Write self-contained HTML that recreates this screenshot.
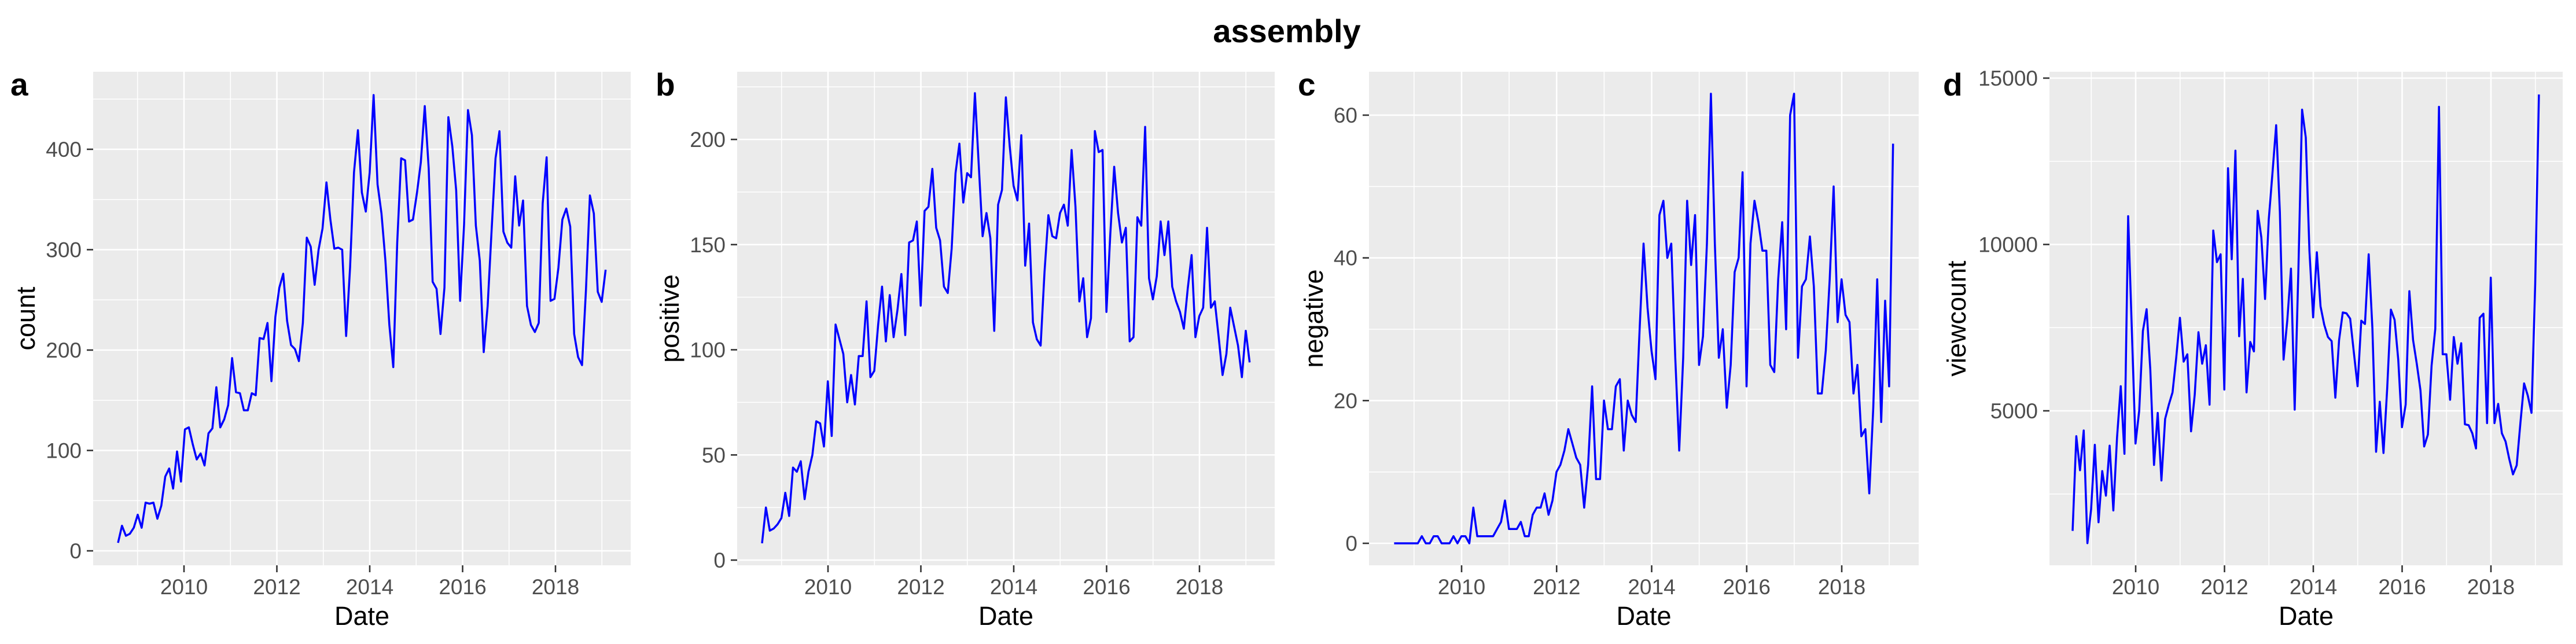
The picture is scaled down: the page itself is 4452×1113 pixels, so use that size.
<!DOCTYPE html>
<html><head><meta charset="utf-8"><style>
html,body{margin:0;padding:0;background:#fff;}
svg{display:block;font-family:"Liberation Sans",Arial,sans-serif;}
</style></head><body>
<svg id="chart" width="4452" height="1113" viewBox="0 0 4452 1113" xmlns="http://www.w3.org/2000/svg">
<rect x="0" y="0" width="4452" height="1113" fill="#fff"/>
<text x="2224" y="73" text-anchor="middle" font-size="56" font-weight="bold" fill="#000">assembly</text>
</svg>
<script>
const startYear = 2008.58;
const endYear = 2019.08;
const countValues = [8,25,15,17,23,36,23,48,47,48,32,45,74,82,62,99,69,121,123,106,91,97,85,117,122,163,123,131,145,192,158,157,140,140,157,155,212,211,227,169,233,262,276,229,205,201,189,227,312,303,265,300,321,367,330,301,302,300,214,282,377,419,357,338,377,454,365,336,289,225,183,307,391,389,328,330,356,387,443,381,268,261,216,262,432,403,359,249,325,439,414,324,289,198,244,319,391,418,318,307,302,373,324,349,244,225,218,227,346,392,249,251,282,330,341,323,216,193,185,260,354,336,258,248,280];
const positiveValues = [8,25,14,15,17,20,32,21,44,42,47,29,42,50,66,65,54,85,59,112,105,98,75,88,74,97,97,123,87,90,112,130,104,126,106,119,136,107,151,152,161,121,166,168,186,158,152,130,127,148,184,198,170,184,182,222,188,154,165,153,109,169,176,220,197,178,171,202,140,160,113,105,102,137,164,154,153,165,169,159,195,168,123,134,106,115,204,194,195,118,155,187,165,151,158,104,106,163,159,206,134,124,135,161,145,161,130,123,118,110,129,145,106,116,120,158,120,123,106,88,98,120,111,102,87,109,94];
const negativeValues = [0,0,0,0,0,0,0,1,0,0,1,1,0,0,0,1,0,1,1,0,5,1,1,1,1,1,2,3,6,2,2,2,3,1,1,4,5,5,7,4,6,10,11,13,16,14,12,11,5,11,22,9,9,20,16,16,22,23,13,20,18,17,30,42,33,27,23,46,48,40,42,26,13,26,48,39,46,25,29,42,63,42,26,30,19,25,38,40,52,22,42,48,45,41,41,25,24,37,45,30,60,63,26,36,37,43,36,21,21,27,37,50,31,37,32,31,21,25,15,16,7,19,37,17,34,22,56];
const viewcountValues = [1392,4236,3214,4409,1022,2044,3978,1650,3190,2451,3953,2007,4200,5739,3707,10850,7463,4015,5000,7401,8054,6232,3374,4938,2906,4754,5185,5554,6601,7796,6478,6699,4384,5493,7364,6416,6970,5185,10419,9470,9704,5640,12290,9557,12820,7241,8965,5554,7069,6786,11010,10209,8362,10751,12143,13584,10973,6539,7709,9273,5037,9224,14052,13214,9803,7808,9766,8140,7586,7217,7094,5394,7118,7956,7931,7771,6749,5739,7709,7611,9704,7488,3768,5271,3732,5677,8042,7734,6539,4507,5185,8596,7131,6416,5616,3929,4286,6355,7463,14138,6699,6699,5333,7217,6416,7032,4594,4569,4323,3867,7796,7919,4631,9002,4631,5209,4323,4076,3547,3091,3362,4631,5825,5456,4938,8818,14507];
const yearTicks = [2010,2012,2014,2016,2018];
const yearMinor = [2009,2011,2013,2015,2017,2019];
const countTicks = [0,100,200,300,400];
const countMinor = [50,150,250,350,450];
const positiveTicks = [0,50,100,150,200];
const positiveMinor = [25,75,125,175,225];
const negativeTicks = [0,20,40,60];
const negativeMinor = [10,30,50];
const viewTicks = [5000,10000,15000];
const viewMinor = [2500,7500,12500];

const NS = "http://www.w3.org/2000/svg";
const svg = document.getElementById('chart');
function mk(tag, attrs, parent){
  const e = document.createElementNS(NS, tag);
  for (const k in attrs) e.setAttribute(k, attrs[k]);
  (parent||svg).appendChild(e);
  return e;
}
const panels = [
  {key:'count', letter:'a', title:'count', values:countValues, ticks:countTicks, minor:countMinor,
   left:161, right:1090, x2010:318, x2018:960, yA:0, pA:952, yB:400, pB:258, letterX:18, titleX:44},
  {key:'positive', letter:'b', title:'positive', values:positiveValues, ticks:positiveTicks, minor:positiveMinor,
   left:1274, right:2203, x2010:1431, x2018:2073, yA:0, pA:968, yB:200, pB:241, letterX:1133, titleX:1157},
  {key:'negative', letter:'c', title:'negative', values:negativeValues, ticks:negativeTicks, minor:negativeMinor,
   left:2366, right:3316, x2010:2526, x2018:3183, yA:0, pA:939, yB:60, pB:199, letterX:2243, titleX:2270},
  {key:'viewcount', letter:'d', title:'viewcount', values:viewcountValues, ticks:viewTicks, minor:viewMinor,
   left:3542, right:4429, x2010:3691, x2018:4305, yA:5000, pA:710, yB:15000, pB:135, letterX:3358, titleX:3381}
];
const TOP = 124, BOTTOM = 977;
panels.forEach(p => {
  const g = mk('g', {});
  
  
  const xs = y => p.x2010 + (y - 2010) * (p.x2018 - p.x2010) / 8;
  const ys = v => p.pA + (v - p.yA) * (p.pB - p.pA) / (p.yB - p.yA);
  const bg = mk('rect', {x:p.left, y:TOP, width:p.right-p.left, height:BOTTOM-TOP, fill:'#EBEBEB'}, g);
  
  
  p.minor.forEach(v => { const y = ys(v); if (y > TOP && y < BOTTOM) {
    const l = mk('line', {x1:p.left, x2:p.right, y1:y, y2:y, stroke:'#fff', 'stroke-width':1.6}, g);
    
     }});
  yearMinor.forEach(v => { const x = xs(v); if (x > p.left && x < p.right) {
    const l = mk('line', {x1:x, x2:x, y1:TOP, y2:BOTTOM, stroke:'#fff', 'stroke-width':1.6}, g);
    
     }});
  p.ticks.forEach(v => { const y = ys(v);
    const l = mk('line', {x1:p.left, x2:p.right, y1:y, y2:y, stroke:'#fff', 'stroke-width':2.6}, g);
    
    
    const tk = mk('line', {x1:p.left-11, x2:p.left, y1:y, y2:y, stroke:'#333', 'stroke-width':2.6}, g);
    
    
    const t = mk('text', {x:p.left-20, y:y+13, 'text-anchor':'end', 'font-size':37, fill:'#4D4D4D'}, g);
    t.textContent = String(v);
    
    
  });
  yearTicks.forEach(v => { const x = xs(v);
    const l = mk('line', {x1:x, x2:x, y1:TOP, y2:BOTTOM, stroke:'#fff', 'stroke-width':2.6}, g);
    
    
    const tk = mk('line', {x1:x, x2:x, y1:BOTTOM, y2:BOTTOM+12, stroke:'#333', 'stroke-width':2.6}, g);
    
    
    const t = mk('text', {x:x, y:1027, 'text-anchor':'middle', 'font-size':37, fill:'#4D4D4D'}, g);
    t.textContent = String(v);
    
    
  });
  const n = p.values.length;
  const pts = p.values.map((v,i) => {
    const yr = startYear + i * (endYear - startYear) / (n - 1);
    return xs(yr).toFixed(1) + ',' + ys(v).toFixed(1);
  }).join(' ');
  const line = mk('polyline', {points:pts, fill:'none', stroke:'#0000FF', 'stroke-width':3.5, 'stroke-linejoin':'round'}, g);
  
  
  const xt = mk('text', {x:(p.left+p.right)/2, y:1080, 'text-anchor':'middle', 'font-size':45, fill:'#000'}, g);
  xt.textContent = 'Date';
  
  
  const cy = (TOP + BOTTOM) / 2;
  const yt = mk('text', {x:p.titleX + 16, y:cy, 'text-anchor':'middle', 'font-size':45, fill:'#000', transform:'rotate(-90 ' + (p.titleX + 16) + ' ' + cy + ')'}, g);
  yt.textContent = p.title;
  
  
  const lt = mk('text', {x:p.letterX, y:165, 'font-size':55, 'font-weight':'bold', fill:'#000'}, g);
  lt.textContent = p.letter;
  
  
});
</script>
</body></html>
